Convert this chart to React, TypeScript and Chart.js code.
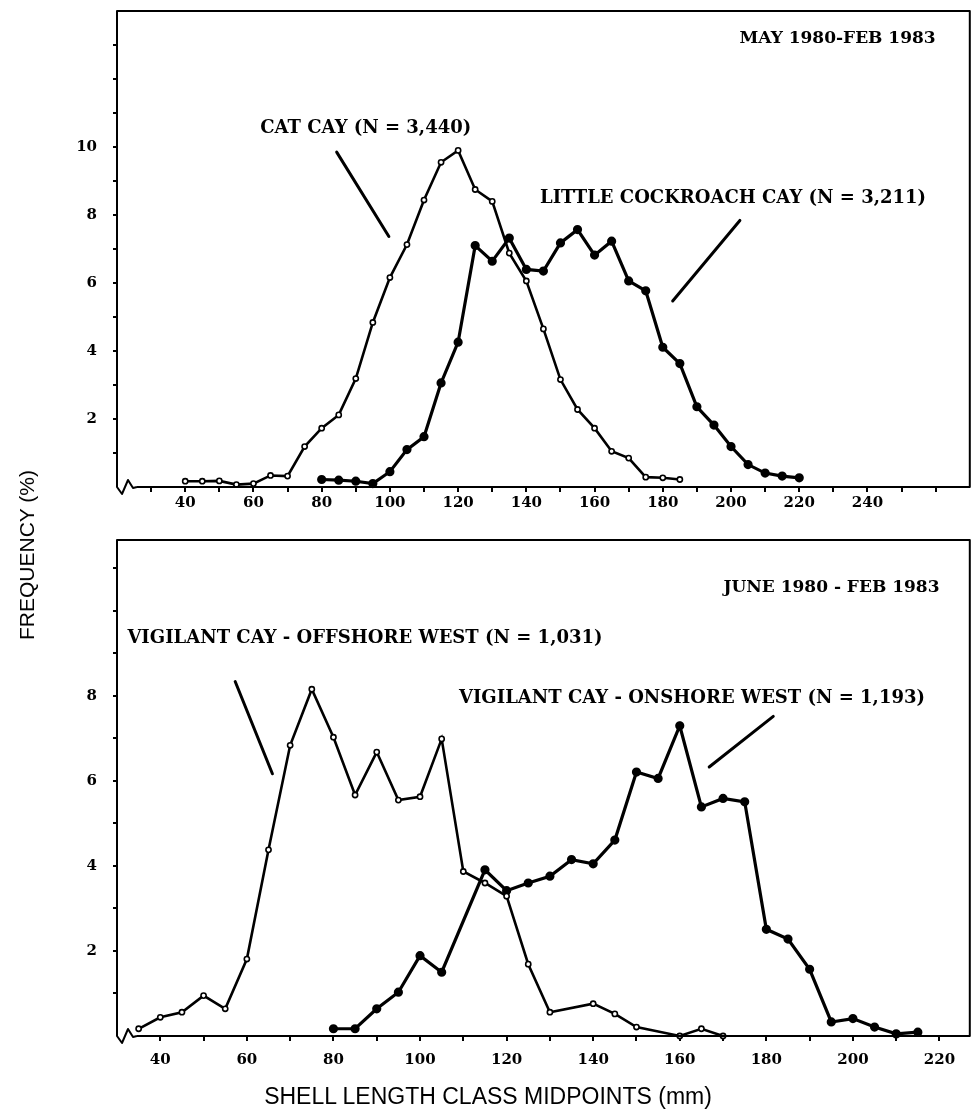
import React, { useEffect, useRef } from "react";
import { Chart, registerables } from "chart.js";

Chart.register(...registerables);

// ---------- DATA (upper panel: May 1980 - Feb 1983) ----------
const catCayX = [40, 45, 50, 55, 60, 65, 70, 75, 80, 85, 90, 95, 100, 105, 110, 115, 120, 125, 130, 135, 140, 145, 150, 155, 160, 165, 170, 175, 180, 185];
const catCayY = [0.17, 0.17, 0.18, 0.07, 0.1, 0.34, 0.32, 1.19, 1.73, 2.12, 3.19, 4.84, 6.16, 7.13, 8.44, 9.55, 9.9, 8.75, 8.4, 6.88, 6.06, 4.65, 3.16, 2.28, 1.73, 1.05, 0.85, 0.29, 0.27, 0.22];

const littleX = [80, 85, 90, 95, 100, 105, 110, 115, 120, 125, 130, 135, 140, 145, 150, 155, 160, 165, 170, 175, 180, 185, 190, 195, 200, 205, 210, 215, 220];
const littleY = [0.22, 0.2, 0.17, 0.1, 0.45, 1.1, 1.48, 3.06, 4.26, 7.1, 6.64, 7.32, 6.4, 6.35, 7.18, 7.57, 6.82, 7.23, 6.06, 5.77, 4.11, 3.63, 2.36, 1.82, 1.19, 0.66, 0.41, 0.32, 0.27];

// ---------- DATA (lower panel: June 1980 - Feb 1983) ----------
const offshoreX = [35, 40, 45, 50, 55, 60, 65, 70, 75, 80, 85, 90, 95, 100, 105, 110, 115, 120, 125, 130, 140, 145, 150, 160, 165, 170];
const offshoreY = [0.17, 0.44, 0.56, 0.95, 0.64, 1.81, 4.38, 6.84, 8.16, 7.03, 5.67, 6.68, 5.55, 5.63, 6.99, 3.87, 3.6, 3.29, 1.69, 0.56, 0.76, 0.52, 0.21, 0.0, 0.17, 0.0];

const onshoreX = [80, 85, 90, 95, 100, 105, 115, 120, 125, 130, 135, 140, 145, 150, 155, 160, 165, 170, 175, 180, 185, 190, 195, 200, 205, 210, 215];
const onshoreY = [0.17, 0.17, 0.64, 1.03, 1.89, 1.5, 3.91, 3.42, 3.6, 3.76, 4.15, 4.05, 4.61, 6.21, 6.06, 7.3, 5.39, 5.59, 5.51, 2.51, 2.28, 1.57, 0.33, 0.41, 0.21, 0.05, 0.09];

// ---------- AXES ----------
const topXTicks = [30, 40, 50, 60, 70, 80, 90, 100, 110, 120, 130, 140, 150, 160, 170, 180, 190, 200, 210, 220, 230, 240, 250, 260];
const topXLabels = [40, 60, 80, 100, 120, 140, 160, 180, 200, 220, 240];
const topYTicks = [1, 2, 3, 4, 5, 6, 7, 8, 9, 10, 11, 12, 13];
const topYLabels = [2, 4, 6, 8, 10];

const botXTicks = [40, 50, 60, 70, 80, 90, 100, 110, 120, 130, 140, 150, 160, 170, 180, 190, 200, 210, 220];
const botXLabels = [40, 60, 80, 100, 120, 140, 160, 180, 200, 220];
const botYTicks = [1, 2, 3, 4, 5, 6, 7, 8, 9, 10, 11];
const botYLabels = [2, 4, 6, 8];

const yTitle = "FREQUENCY (%)";
const xTitle = "SHELL LENGTH CLASS MIDPOINTS (mm)";

// annotations (data units)
const topNotes = [
  { text: "MAY 1980-FEB 1983", x: 260, y: 13.2, align: "right", size: 17 },
  { text: "CAT CAY (N = 3,440)", x: 62, y: 10.55, align: "left", size: 18 },
  { text: "LITTLE COCKROACH CAY (N = 3,211)", x: 144, y: 8.48, align: "left", size: 18 },
];
const topPointers = [
  [84.4, 9.85, 99.7, 7.37],
  [202.6, 7.84, 182.9, 5.47],
];
const botNotes = [
  { text: "JUNE 1980 - FEB 1983", x: 220, y: 10.56, align: "right", size: 17 },
  { text: "VIGILANT CAY - OFFSHORE WEST (N = 1,031)", x: 32.4, y: 9.35, align: "left", size: 18 },
  { text: "VIGILANT CAY - ONSHORE WEST (N = 1,193)", x: 109, y: 7.95, align: "left", size: 18 },
];
const botPointers = [
  [57.3, 8.34, 65.9, 6.17],
  [181.6, 7.52, 166.8, 6.33],
];

const SERIF = '"DejaVu Serif", "Liberation Serif", serif';

function pairs(xs: number[], ys: number[]) {
  return xs.map((x, i) => ({ x, y: ys[i] }));
}

function framePlugin(notes: any[], pointers: number[][]) {
  return {
    id: "frameNotes",
    afterDraw(chart: any) {
      const { ctx, chartArea } = chart;
      const { left, right, top, bottom } = chartArea;
      const xs = chart.scales.x;
      const ys = chart.scales.y;
      ctx.save();
      ctx.strokeStyle = "#000";
      ctx.lineWidth = 2;
      ctx.lineJoin = "round";
      ctx.beginPath();
      ctx.moveTo(left + 20, bottom);
      ctx.lineTo(right, bottom);
      ctx.lineTo(right, top);
      ctx.lineTo(left, top);
      ctx.lineTo(left, bottom);
      ctx.lineTo(left + 5, bottom + 7);
      ctx.lineTo(left + 11, bottom - 7);
      ctx.lineTo(left + 16, bottom + 1);
      ctx.lineTo(left + 20, bottom);
      ctx.stroke();

      ctx.lineWidth = 3;
      ctx.lineCap = "round";
      pointers.forEach((p) => {
        ctx.beginPath();
        ctx.moveTo(xs.getPixelForValue(p[0]), ys.getPixelForValue(p[1]));
        ctx.lineTo(xs.getPixelForValue(p[2]), ys.getPixelForValue(p[3]));
        ctx.stroke();
      });

      ctx.fillStyle = "#000";
      ctx.textBaseline = "middle";
      notes.forEach((n) => {
        ctx.font = `bold ${n.size}px ${SERIF}`;
        ctx.textAlign = n.align;
        ctx.fillText(n.text, xs.getPixelForValue(n.x), ys.getPixelForValue(n.y));
      });
      ctx.restore();
    },
  };
}

function buildConfig(p: any) {
  const tickFont = { family: SERIF, size: 15, weight: "bold" as const };
  return {
    type: "line" as const,
    data: {
      datasets: [
        {
          data: pairs(p.aX, p.aY),
          borderColor: "#000",
          borderWidth: 2.6,
          pointRadius: 2.6,
          pointBorderWidth: 1.6,
          pointBackgroundColor: "#fff",
          pointBorderColor: "#000",
          tension: 0,
          clip: false,
        },
        {
          data: pairs(p.bX, p.bY),
          borderColor: "#000",
          borderWidth: 3.2,
          pointRadius: 3,
          pointBackgroundColor: "#000",
          pointBorderColor: "#000",
          tension: 0,
          clip: false,
        },
      ],
    },
    options: {
      responsive: false,
      animation: false,
      events: [],
      layout: { padding: { left: 0, right: p.padRight, top: p.padTop, bottom: 0 } },
      plugins: { legend: { display: false }, tooltip: { enabled: false }, title: { display: false } },
      scales: {
        x: {
          type: "linear",
          min: p.xMin,
          max: p.xMax,
          afterBuildTicks: (s: any) => {
            s.ticks = p.xTicks.map((v: number) => ({ value: v }));
          },
          afterFit: (s: any) => {
            s.height = p.xAxisH;
            s.paddingLeft = 0;
            s.paddingRight = 0;
          },
          grid: { display: true, drawOnChartArea: false, drawTicks: true, tickLength: 5, color: "#000", lineWidth: 2 },
          border: { display: false },
          ticks: {
            autoSkip: false,
            maxRotation: 0,
            color: "#000",
            padding: p.xPad,
            font: tickFont,
            callback: (v: number) => (p.xLabels.includes(v) ? String(v) : ""),
          },
        },
        y: {
          type: "linear",
          min: 0,
          max: p.yMax,
          afterBuildTicks: (s: any) => {
            s.ticks = p.yTicks.map((v: number) => ({ value: v }));
          },
          afterFit: (s: any) => {
            s.width = 117;
            s.paddingTop = 0;
            s.paddingBottom = 0;
          },
          grid: { display: true, drawOnChartArea: false, drawTicks: true, tickLength: 4, color: "#000", lineWidth: 2 },
          border: { display: false },
          ticks: {
            autoSkip: false,
            color: "#000",
            padding: 16,
            font: tickFont,
            callback: (v: number) => (p.yLabels.includes(v) ? String(v) : ""),
          },
        },
      },
    },
    plugins: [framePlugin(p.notes, p.pointers)],
  };
}

function Panel(props: { top: number; height: number; cfg: any }) {
  const ref = useRef<HTMLCanvasElement | null>(null);
  useEffect(() => {
    if (!ref.current) return;
    const chart = new Chart(ref.current, buildConfig(props.cfg) as any);
    return () => chart.destroy();
  }, []);
  return (
    <canvas
      ref={ref}
      width={977}
      height={props.height}
      style={{ position: "absolute", left: 0, top: props.top, width: 977, height: props.height }}
    />
  );
}

export default function App() {
  const topCfg = {
    aX: catCayX, aY: catCayY, bX: littleX, bY: littleY,
    xMin: 20, xMax: 270, yMax: 14,
    xTicks: topXTicks, xLabels: topXLabels, yTicks: topYTicks, yLabels: topYLabels,
    padTop: 11, padRight: 6, xAxisH: 28, xPad: 2,
    notes: topNotes, pointers: topPointers,
  };
  const botCfg = {
    aX: offshoreX, aY: offshoreY, bX: onshoreX, bY: onshoreY,
    xMin: 30, xMax: 227, yMax: 11.67,
    xTicks: botXTicks, xLabels: botXLabels, yTicks: botYTicks, yLabels: botYLabels,
    padTop: 10, padRight: 7, xAxisH: 69, xPad: 10,
    notes: botNotes, pointers: botPointers,
  };
  return (
    <div style={{ position: "absolute", left: 0, top: 0, width: 977, height: 1120, background: "#fff", overflow: "hidden" }}>
      <Panel top={0} height={515} cfg={topCfg} />
      <Panel top={530} height={575} cfg={botCfg} />
      <div
        style={{
          position: "absolute",
          left: 27,
          top: 555,
          transform: "translate(-50%, -50%) rotate(-90deg)",
          whiteSpace: "nowrap",
          font: '21px "Liberation Sans", Arial, sans-serif',
          color: "#000",
        }}
      >
        {yTitle}
      </div>
      <div
        style={{
          position: "absolute",
          left: 488,
          top: 1096,
          transform: "translate(-50%, -50%)",
          whiteSpace: "nowrap",
          font: '23px "Liberation Sans", Arial, sans-serif',
          color: "#000",
        }}
      >
        {xTitle}
      </div>
    </div>
  );
}
